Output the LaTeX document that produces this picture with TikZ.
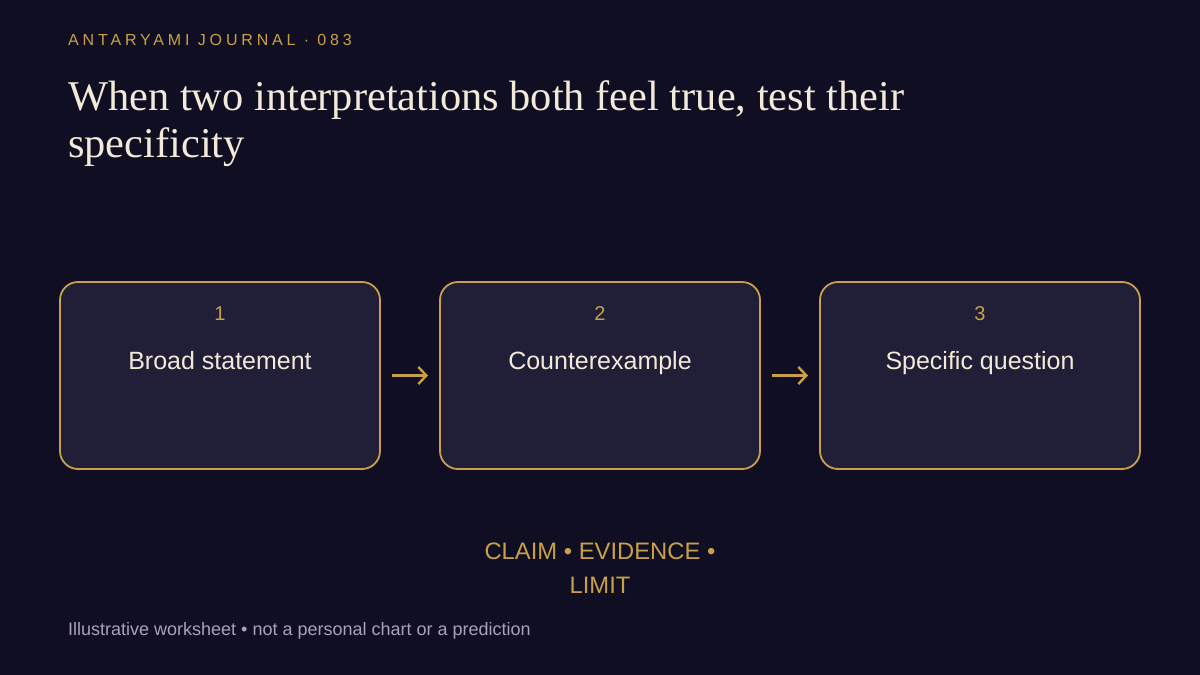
\documentclass[tikz,border=0pt]{standalone}
\usepackage{fontspec}
\setmainfont{Liberation Serif}
\setsansfont{Liberation Sans}
\usetikzlibrary{arrows.meta,positioning}

\definecolor{night}{HTML}{100E22}
\definecolor{cardfill}{HTML}{211F38}
\definecolor{gold}{HTML}{C9A04A}
\definecolor{cream}{HTML}{F3E9D8}
\definecolor{muted}{HTML}{A8A2BD}

\begin{document}
\begin{tikzpicture}[x=1pt, y=-1pt,
        card/.style={draw=gold, line width=1.8pt, fill=cardfill, rounded corners=18pt, minimum width=320pt, minimum height=187pt, inner sep=0pt, outer sep=0pt},
        numtxt/.style={anchor=base, text=gold, font=\sffamily\fontsize{20}{24}\selectfont},
        cardtxt/.style={anchor=base, text=cream, font=\sffamily\fontsize{25}{30}\selectfont},
        arrow/.style={-{Straight Barb[length=8pt, width=17pt, line width=2.4pt]}, line width=2.4pt, draw=gold, shorten <=12pt, shorten >=12pt}
      ]
      \fill[night] (0,0) rectangle (1200,675);
      \useasboundingbox (0,0) rectangle (1200,675);
      % heading
      \node[anchor=base west, inner sep=0pt, text=gold, font=\sffamily\fontsize{16}{19}\selectfont\addfontfeature{LetterSpace=24}] (kicker) at (68,45) {ANTARYAMI JOURNAL · 083};
      \node[anchor=base west, inner sep=0pt, text=cream, align=left, font=\fontsize{42.4}{47}\selectfont] (title) at (68,157) {When two interpretations both feel true, test their\\specificity};
      % the three steps
      \node[card] (b1) at (220,375.5) {};
      \node[card, right=60pt of b1] (b2) {};
      \node[card, right=60pt of b2] (b3) {};
      \node[numtxt] (n1) at ([yshift=-38pt]b1.north) {1};
      \node[numtxt] (n2) at ([yshift=-38pt]b2.north) {2};
      \node[numtxt] (n3) at ([yshift=-38pt]b3.north) {3};
      \node[cardtxt] (t1) at ([yshift=-87pt]b1.north) {Broad statement};
      \node[cardtxt] (t2) at ([yshift=-87pt]b2.north) {Counterexample};
      \node[cardtxt] (t3) at ([yshift=-87pt]b3.north) {Specific question};
      \draw[arrow] (b1) -- (b2);
      \draw[arrow] (b2) -- (b3);
      % footer
      \node[anchor=base, inner sep=0pt, text=gold, align=center, font=\sffamily\fontsize{23.8}{33.6}\selectfont] (tags) at (600,593) {CLAIM • EVIDENCE •\\LIMIT};
      \node[anchor=base west, inner sep=0pt, text=muted, font=\sffamily\fontsize{18}{21}\selectfont] (note) at (68,635) {Illustrative worksheet • not a personal chart or a prediction};
    \end{tikzpicture}
\end{document}
